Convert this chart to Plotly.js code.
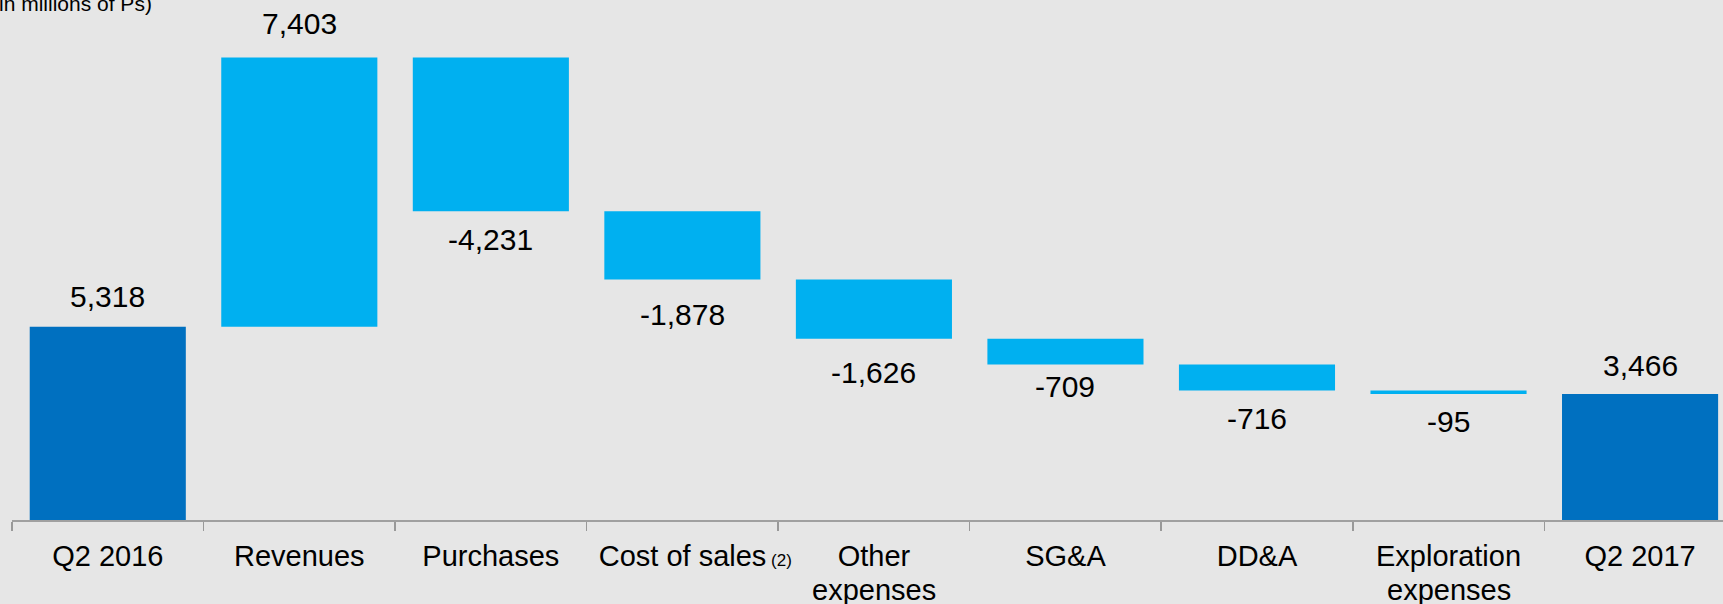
<!DOCTYPE html>
<html>
<head>
<meta charset="utf-8">
<script src="https://cdn.plot.ly/plotly-3.0.1.min.js"></script>
<style>
  html, body { margin: 0; padding: 0; background: #E6E6E6; }
  #chart { width: 1723px; height: 604px; }
</style>
</head>
<body>
<div id="chart"></div>
<script>
// ---- data ----
const categories = ["Q2 2016", "Revenues", "Purchases", "Cost of sales", "Other expenses",
                    "SG&A", "DD&A", "Exploration expenses", "Q2 2017"];
const PAD = "<span style='font-size:15.5px'>&nbsp;&nbsp;&nbsp;&nbsp;&nbsp;&nbsp;</span>";
const tickLines = [["Q2 2016"], ["Revenues"], ["Purchases"],
                   [PAD + "Cost of sales<span style='font-size:17px'> (2)</span>"],
                   ["Other", "expenses"], ["SG&A"], ["DD&A"], ["Exploration", "expenses"], ["Q2 2017"]];
const values = [5318, 7403, -4231, -1878, -1626, -709, -716, -95, 3466];
const measures = ["absolute", "relative", "relative", "relative", "relative",
                  "relative", "relative", "relative", "total"];
const unitNote = "(in millions of Ps)";

// ---- styling ----
const FONT = "'Liberation Sans', Arial, sans-serif";
const LIGHT = "#00B0F0", DARK = "#0070C0", BG = "#E6E6E6";
const labelGap = [19, 23, 16, 22.7, 22, 10.7, 15.7, 15.3, 17]; // px between bar end and label

// cumulative ends of each bar
let cum = 0;
const ends = [], isUp = [];
measures.forEach((m, i) => {
  if (m === "absolute") { cum = values[i]; isUp.push(true); }
  else if (m === "total") { isUp.push(true); }
  else { cum += values[i]; isUp.push(values[i] >= 0); }
  ends.push(cum);
});

const fmt = v => v.toLocaleString("en-US");
const annotations = [];
categories.forEach((c, i) => {
  const label = measures[i] === "total" ? fmt(ends[i]) : fmt(values[i]);
  if (isUp[i]) {
    annotations.push({x: c, y: ends[i], xref: "x", yref: "y", text: label, showarrow: false,
      yanchor: "bottom", yshift: labelGap[i] - 7.3, font: {family: FONT, size: 30, color: "#000"}});
  } else {
    annotations.push({x: c, y: ends[i], xref: "x", yref: "y", text: label, showarrow: false,
      yanchor: "top", yshift: -(labelGap[i] - 6.7), font: {family: FONT, size: 30, color: "#000"}});
  }
  // extra lines of the category label
  tickLines[i].slice(1).forEach((line, k) => {
    annotations.push({x: c, y: 0, xref: "x", yref: "paper", text: line, showarrow: false,
      yanchor: "top", yshift: -52 - 30 * k, font: {family: FONT, size: 29, color: "#000"}});
  });
});
annotations.push({x: (154 - 11.5) / 1711.5, y: 1, xref: "paper", yref: "paper", text: unitNote,
  showarrow: false, xanchor: "right", yanchor: "middle", yshift: -3.5,
  font: {family: FONT, size: 21, color: "#000"}});

const trace = {
  type: "waterfall",
  x: categories,
  y: values,
  measure: measures,
  increasing: {marker: {color: LIGHT, line: {width: 0}}},
  decreasing: {marker: {color: LIGHT, line: {width: 0}}},
  totals: {marker: {color: DARK, line: {width: 0}}},
  connector: {visible: false},
  textinfo: "none",
  hoverinfo: "x+y"
};

const layout = {
  width: 1723, height: 604,
  margin: {l: 11.5, r: 0, t: 0, b: 84, pad: 0},
  paper_bgcolor: BG, plot_bgcolor: BG,
  showlegend: false,
  waterfallgap: 0.185,
  font: {family: FONT, color: "#000"},
  xaxis: {
    type: "category",
    range: [-0.5, 8.433],
    tickmode: "array",
    tickvals: categories,
    ticktext: tickLines.map(l => l[0]),
    tickangle: 0,
    tickson: "boundaries",
    ticks: "outside", ticklen: 9, tickwidth: 1.5, tickcolor: "#999999",
    ticklabelstandoff: 10,
    showline: true, linecolor: "#A0A0A0", linewidth: 1.5,
    showgrid: false, zeroline: false,
    tickfont: {family: FONT, size: 29, color: "#000"},
    fixedrange: true
  },
  yaxis: {
    range: [0, 14301],
    visible: false, showgrid: false, zeroline: false, fixedrange: true
  },
  annotations: annotations
};

Plotly.newPlot("chart", [trace], layout, {displayModeBar: false, staticPlot: true});
</script>
</body>
</html>
